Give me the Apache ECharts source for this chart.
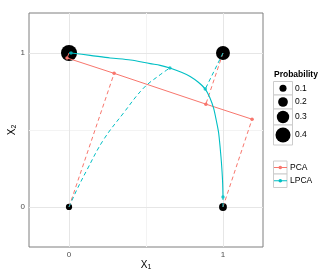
<!DOCTYPE html>
<html><head><meta charset="utf-8">
<script src="https://cdn.jsdelivr.net/npm/echarts/dist/echarts.min.js"></script>
<style>html,body{margin:0;padding:0;background:#fff}#c{width:336px;height:280px}</style>
</head><body><div id="c"></div>
<script>
// ---- data ----
const points = [[0,0],[0,1],[1,1],[1,0]];
const probs = [0.07, 0.44, 0.36, 0.13];
const pcaProj = [[0.293,0.868],[-0.013,0.968],[0.889,0.668],[1.189,0.570]];
const pcaLine = [[-0.013,0.968],[0.293,0.868],[0.889,0.668],[1.189,0.570]];
const lpcaProj = [[0.655,0.903],[0.013,1.0],[0.885,0.766],[1.0,0.065]];
const lpcaCurve = [[0.013,1.0],[0.137,0.985],[0.267,0.968],[0.40,0.955],[0.527,0.931],[0.592,0.920],[0.655,0.903],[0.73,0.875],[0.787,0.848],[0.84,0.81],[0.885,0.766],[0.915,0.71],[0.939,0.642],[0.957,0.56],[0.972,0.48],[0.987,0.326],[0.994,0.23],[0.998,0.153],[1.0,0.065]];
const lpcaDash0 = [[0,0],[0.05,0.11],[0.115,0.238],[0.223,0.435],[0.353,0.609],[0.484,0.772],[0.592,0.859],[0.655,0.903]];
const xTicks = [0,1];
const yTicks = [0,1];
const minorGrid = [0.5];
const sizeBreaks = [0.1,0.2,0.3,0.4];
const methods = ['PCA','LPCA'];
const xTitle = ['X','1'];
const yTitle = ['X','2'];

// ---- style ----
const RED = '#F8766D', CYAN = '#00BFC4';
const FONT = '"Liberation Sans", Arial, sans-serif';
const sizeOf = p => 4.4 + 26.6 * p;

const chart = echarts.init(document.getElementById('c'), null, {renderer:'canvas'});

const series = [];
// grid lines via markLine
series.push({
  type:'line', data:[], silent:true, z:0, zlevel:0,
  markLine:{silent:true, symbol:'none', animation:false, label:{show:false}, z:0,
    data: [
      ...minorGrid.map(v=>({xAxis:v, lineStyle:{color:'#f3f3f3', width:1, type:'solid'}})),
      ...minorGrid.map(v=>({yAxis:v, lineStyle:{color:'#f3f3f3', width:1, type:'solid'}})),
      ...xTicks.map(v=>({xAxis:v, lineStyle:{color:'#e6e6e6', width:1, type:'solid'}})),
      ...yTicks.map(v=>({yAxis:v, lineStyle:{color:'#e6e6e6', width:1, type:'solid'}}))
    ]}
});
// probability circles
series.push({
  type:'scatter', z:10,
  data: points.map((p,i)=>({value:[p[0],p[1],probs[i]], symbolSize:sizeOf(probs[i])})),
  itemStyle:{color:'#000', opacity:1}, silent:true
});
// dashed projection segments
points.forEach((p,i)=>{
  series.push({type:'line', z:11, data:[p, pcaProj[i]], showSymbol:false, silent:true,
    lineStyle:{color:RED, width:1, type:[4,3]}});
});
points.forEach((p,i)=>{
  const d = (i===0) ? lpcaDash0 : [p, lpcaProj[i]];
  series.push({type:'line', z:11, data:d, showSymbol:false, silent:true, smooth:(i===0)?0.4:false,
    lineStyle:{color:CYAN, width:1, type:[4,3]}});
});
// PCA line
series.push({type:'line', z:12, data:pcaLine, symbol:'circle', symbolSize:3.5, showSymbol:true, silent:true,
  lineStyle:{color:RED, width:1}, itemStyle:{color:RED}});
// LPCA curve
series.push({type:'line', z:12, data:lpcaCurve, showSymbol:false, smooth:0.3, silent:true,
  lineStyle:{color:CYAN, width:1.1}});
series.push({type:'scatter', z:13, data:lpcaProj, symbol:'circle', symbolSize:3.5, silent:true,
  itemStyle:{color:CYAN}});

// legend + axis title graphics
const rich = {a:{fontSize:10, fontFamily:FONT, fill:'#000', color:'#000'}, s:{fontSize:7, fontFamily:FONT, fill:'#000', color:'#000', padding:[5,0,0,0]}};
const g = [];
g.push({type:'text', x:146, y:265, style:{text:'{a|'+xTitle[0]+'}{s|'+xTitle[1]+'}', rich:rich, align:'center', verticalAlign:'middle'}});
g.push({type:'text', x:12, y:130, rotation:Math.PI/2, style:{text:'{a|'+yTitle[0]+'}{s|'+yTitle[1]+'}', rich:rich, align:'center', verticalAlign:'middle'}});
g.push({type:'text', left:274, top:70, style:{text:'Probability', font:'bold 8.5px '+FONT, fill:'#000'}});
const rows = [[81.5,95],[95,109],[109,125],[125,145]];
sizeBreaks.forEach((b,i)=>{
  const [t,bt] = rows[i];
  g.push({type:'rect', shape:{x:273.5,y:t,width:19,height:bt-t}, style:{fill:'#fff', stroke:'#cccccc', lineWidth:1}});
  g.push({type:'circle', shape:{cx:283, cy:(t+bt)/2, r:sizeOf(b)/2}, style:{fill:'#000'}});
  g.push({type:'text', x:295, y:(t+bt)/2, style:{text:String(b), font:'8.5px '+FONT, fill:'#000', textVerticalAlign:'middle', verticalAlign:'middle'}});
});
const mrows = [[161,174],[174,187.5]];
const mcols = [RED, CYAN];
methods.forEach((m,i)=>{
  const [t,bt] = mrows[i]; const cy=(t+bt)/2;
  g.push({type:'rect', shape:{x:273.5,y:t,width:13.5,height:bt-t}, style:{fill:'#fff', stroke:'#cccccc', lineWidth:1}});
  g.push({type:'line', shape:{x1:274,y1:cy,x2:287,y2:cy}, style:{stroke:mcols[i], lineWidth:1}});
  g.push({type:'circle', shape:{cx:280.3, cy:cy, r:1.8}, style:{fill:mcols[i]}});
  g.push({type:'text', x:290, y:cy, style:{text:m, font:'8.5px '+FONT, fill:'#000', verticalAlign:'middle', textVerticalAlign:'middle'}});
});

chart.setOption({
  animation:false,
  backgroundColor:'#fff',
  grid:{left:29, top:13, width:234, height:234, show:true, borderColor:'#7f7f7f', borderWidth:1, backgroundColor:'#fff', containLabel:false, outerBoundsMode:'none'},
  xAxis:{type:'value', min:-0.26, max:1.26,
    axisLine:{show:false}, splitLine:{show:false},
    axisTick:{show:true, customValues:xTicks, length:3, lineStyle:{color:'#333'}},
    axisLabel:{customValues:xTicks, fontSize:8, fontFamily:FONT, color:'#4d4d4d', margin:4}},
  yAxis:{type:'value', min:-0.26, max:1.26,
    axisLine:{show:false}, splitLine:{show:false},
    axisTick:{show:true, customValues:yTicks, length:3, lineStyle:{color:'#333'}},
    axisLabel:{customValues:yTicks, fontSize:8, fontFamily:FONT, color:'#4d4d4d', margin:4}},
  series: series,
  graphic: g
});
</script></body></html>
